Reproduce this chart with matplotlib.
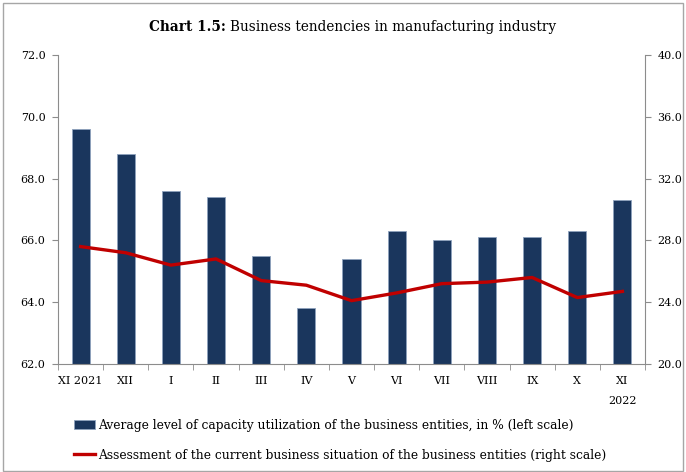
import matplotlib.pyplot as plt
from matplotlib.patches import Rectangle
import numpy as np

plt.rcParams['font.family'] = ['DejaVu Serif']

# Data
months = ['XI 2021', 'XII', 'I', 'II', 'III', 'IV', 'V', 'VI', 'VII', 'VIII', 'IX', 'X', 'XI\n2022']
capacity = [69.6, 68.8, 67.6, 67.4, 65.5, 63.8, 65.4, 66.3, 66.0, 66.1, 66.1, 66.3, 67.3]
situation = [27.6, 27.2, 26.4, 26.8, 25.4, 25.1, 24.1, 24.6, 25.2, 25.3, 25.6, 24.3, 24.7]

fig = plt.figure(figsize=(6.86, 4.72), dpi=100)
ax = fig.add_axes([58 / 686, 1 - 364 / 472, 587 / 686, 309 / 472])
ax2 = ax.twinx()

x = np.arange(len(months))
bars = ax.bar(x, capacity, width=0.4, color='#1a365d', edgecolor='#8ea2bd', linewidth=0.6,
              label='Average level of capacity utilization of the business entities, in % (left scale)')
line, = ax2.plot(x, situation, color='#c00000', linewidth=2.4,
                 label='Assessment of the current business situation of the business entities (right scale)')

ax.set_ylim(62, 72)
ax.set_yticks(np.arange(62, 72.1, 2))
ax.set_yticklabels([f'{v:.1f}' for v in np.arange(62, 72.1, 2)])
ax2.set_ylim(20, 40)
ax2.set_yticks(np.arange(20, 40.1, 4))
ax2.set_yticklabels([f'{v:.1f}' for v in np.arange(20, 40.1, 4)])
ax.set_xlim(-0.5, len(months) - 0.5)

# category labels centred, ticks between categories
ax.set_xticks(x)
ax.set_xticklabels(months, linespacing=2.2)
ax.set_xticks(np.arange(-0.5, len(months), 1), minor=True)
ax.tick_params(axis='x', which='major', length=0, pad=9, labelsize=8)
ax.tick_params(axis='x', which='minor', length=4, color='#8c8c8c', direction='out')
ax.tick_params(axis='y', length=4, color='#8c8c8c', labelsize=8, pad=5)
ax2.tick_params(axis='y', length=4, color='#8c8c8c', labelsize=8, pad=5)

for a in (ax, ax2):
    a.spines['top'].set_visible(False)
    for s in ('left', 'right', 'bottom'):
        a.spines[s].set_color('#8c8c8c')
ax.spines['right'].set_visible(False)
ax2.spines['left'].set_visible(False)
ax2.spines['bottom'].set_visible(False)

# title: bold label followed by regular text
t1 = fig.text(149 / 686, 1 - 27 / 472, 'Chart 1.5:', ha='left', va='center', fontsize=9.8, fontweight='bold')
fig.canvas.draw()
bb = t1.get_window_extent()
fig.text(bb.x1 / fig.bbox.width + 4 / 686, 1 - 27 / 472, 'Business tendencies in manufacturing industry',
         ha='left', va='center', fontsize=9.8)

fig.legend(handles=[bars, line], loc='upper left', bbox_to_anchor=(63 / 686, 1 - 408 / 472),
           frameon=False, fontsize=8.8, handlelength=1.75, handletextpad=0.2, labelspacing=1.35)

fig.patches.append(Rectangle((0.004, 0.002), 0.992, 0.992, transform=fig.transFigure,
                             fill=False, edgecolor='#a6a6a6', linewidth=1))

fig.savefig('out.png', dpi=100)
